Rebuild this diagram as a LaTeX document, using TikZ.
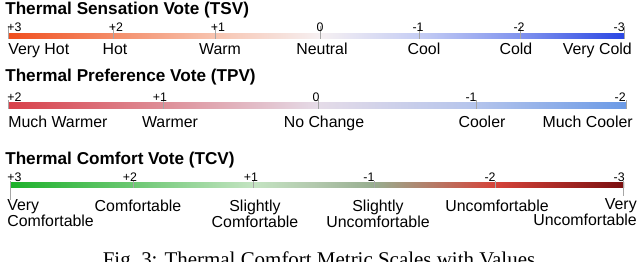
\documentclass[tikz,border=0pt]{standalone}
\usepackage{fontspec}
\setmainfont{Liberation Sans}
\newfontfamily\capfont{Liberation Serif}
\usetikzlibrary{positioning}

% Colores de las escalas
\definecolor{tsvA}{HTML}{F04E1E}
\definecolor{tsvB}{HTML}{F48C68}
\definecolor{tsvC}{HTML}{F7C4B0}
\definecolor{tsvD}{HTML}{F6F0F2}
\definecolor{tsvE}{HTML}{C5CDF4}
\definecolor{tsvF}{HTML}{8093EE}
\definecolor{tsvG}{HTML}{2A46E3}

\definecolor{tpvA}{HTML}{D8404A}
\definecolor{tpvB}{HTML}{DE8E97}
\definecolor{tpvC}{HTML}{E5DCE8}
\definecolor{tpvD}{HTML}{B4C4EC}
\definecolor{tpvE}{HTML}{6B9AE6}

\definecolor{tcvA}{HTML}{1DB12B}
\definecolor{tcvB}{HTML}{6CC873}
\definecolor{tcvC}{HTML}{C4E4C2}
\definecolor{tcvM}{HTML}{B3C9AE}
\definecolor{tcvD}{HTML}{98AE90}
\definecolor{tcvE}{HTML}{D5433A}
\definecolor{tcvF}{HTML}{7A0F10}

\pgfdeclarehorizontalshading{tsvShade}{100bp}{color(0bp)=(tsvA); color(25bp)=(tsvA); color(33.5bp)=(tsvB); color(41.8bp)=(tsvC); color(50.3bp)=(tsvD); color(58.4bp)=(tsvE); color(66.6bp)=(tsvF); color(75bp)=(tsvG); color(100bp)=(tsvG)}
\pgfdeclarehorizontalshading{tpvShade}{100bp}{color(0bp)=(tpvA); color(25bp)=(tpvA); color(37.5bp)=(tpvB); color(50.1bp)=(tpvC); color(62.9bp)=(tpvD); color(75bp)=(tpvE); color(100bp)=(tpvE)}
\pgfdeclarehorizontalshading{tcvShade}{100bp}{color(0bp)=(tcvA); color(25bp)=(tcvA); color(35bp)=(tcvB); color(44.8bp)=(tcvC); color(49.7bp)=(tcvM); color(54.6bp)=(tcvD); color(64.5bp)=(tcvE); color(75bp)=(tcvF); color(100bp)=(tcvF)}

\begin{document}
\begin{tikzpicture}[
		x=0.025cm, y=-0.025cm,
		% Estilos de textos y marcas
		votetitle/.style={anchor=base west, inner sep=0pt, font=\bfseries\fontsize{12.2}{14}\selectfont},
		num/.style={anchor=base, inner sep=0pt, font=\fontsize{8.8}{10}\selectfont},
		lbl/.style={anchor=base, inner sep=0pt, align=center, font=\fontsize{11.3}{11.6}\selectfont},
		scaletick/.style={draw=black!35, line width=0.3pt}
		]
		\useasboundingbox (0,0) rectangle (640,262);
		\clip (0,0) rectangle (640,262);
		
		% --- THERMAL SENSATION VOTE ---
		\node [votetitle] (tsvTitle) at (5,15) {Thermal Sensation Vote (TSV)};
		\shade [shading=tsvShade] (8,34) rectangle (624,39);
		
		\coordinate (tsvP3) at (8,39);
		\coordinate (tsvP2) at (113,39);
		\coordinate (tsvP1) at (215,39);
		\coordinate (tsvZ) at (320,39);
		\coordinate (tsvM1) at (419,39);
		\coordinate (tsvM2) at (520,39);
		\coordinate (tsvM3) at (624,39);
		\draw [scaletick] (tsvP3) -- ++(0,-13);
		\draw [scaletick] (tsvP2) -- ++(0,-13);
		\draw [scaletick] (tsvP1) -- ++(0,-13);
		\draw [scaletick] (tsvZ) -- ++(0,-13);
		\draw [scaletick] (tsvM1) -- ++(0,-13);
		\draw [scaletick] (tsvM2) -- ++(0,-13);
		\draw [scaletick] (tsvM3) -- ++(0,-13);
		
		\node [num, anchor=base west] (tsvNumP3) at (7,32) {+3};
		\node [num] (tsvNumP2) at (116,32) {+2};
		\node [num] (tsvNumP1) at (218,32) {+1};
		\node [num] (tsvNumZ) at (320,32) {0};
		\node [num] (tsvNumM1) at (418,32) {-1};
		\node [num] (tsvNumM2) at (519,32) {-2};
		\node [num, anchor=base east] (tsvNumM3) at (625,32) {-3};
		
		\node [lbl, anchor=base west] (veryHot) at (8,55) {Very Hot};
		\node [lbl] (hot) at (115,55) {Hot};
		\node [lbl] (warm) at (220,55) {Warm};
		\node [lbl] (neutral) at (322,55) {Neutral};
		\node [lbl] (cool) at (424,55) {Cool};
		\node [lbl] (cold) at (516,55) {Cold};
		\node [lbl, anchor=base east] (veryCold) at (632,55) {Very Cold};
		
		% --- THERMAL PREFERENCE VOTE ---
		\node [votetitle] (tpvTitle) at (5,82) {Thermal Preference Vote (TPV)};
		\shade [shading=tpvShade] (8,103) rectangle (626,109);
		
		\coordinate (tpvP2) at (8,109);
		\coordinate (tpvP1) at (163,109);
		\coordinate (tpvZ) at (318,109);
		\coordinate (tpvM1) at (476,109);
		\coordinate (tpvM2) at (626,109);
		\draw [scaletick] (tpvP2) -- ++(0,-9);
		\draw [scaletick] (tpvP1) -- ++(0,-9);
		\draw [scaletick] (tpvZ) -- ++(0,-9);
		\draw [scaletick] (tpvM1) -- ++(0,-9);
		\draw [scaletick] (tpvM2) -- ++(0,-9);
		
		\node [num, anchor=base west] (tpvNumP2) at (7,101.5) {+2};
		\node [num] (tpvNumP1) at (160,101.5) {+1};
		\node [num] (tpvNumZ) at (316,101.5) {0};
		\node [num] (tpvNumM1) at (471,101.5) {-1};
		\node [num, anchor=base east] (tpvNumM2) at (626,101.5) {-2};
		
		\node [lbl, anchor=base west] (muchWarmer) at (8,128) {Much Warmer};
		\node [lbl] (warmer) at (170,128) {Warmer};
		\node [lbl] (noChange) at (324,128) {No Change};
		\node [lbl] (cooler) at (482,128) {Cooler};
		\node [lbl, anchor=base east] (muchCooler) at (633,128) {Much Cooler};
		
		% --- THERMAL COMFORT VOTE ---
		\node [votetitle] (tcvTitle) at (5,165) {Thermal Comfort Vote (TCV)};
		\shade [shading=tcvShade] (10,183) rectangle (624,188);
		
		\coordinate (tcvP3) at (10,188);
		\coordinate (tcvP2) at (133,188);
		\coordinate (tcvP1) at (253,188);
		\coordinate (tcvM1) at (374,188);
		\coordinate (tcvM2) at (495,188);
		\coordinate (tcvM3) at (623,188);
		\draw [scaletick] (tcvP3) ++(0,12) -- ++(0,-19);
		\draw [scaletick] (tcvP2) -- ++(0,-7);
		\draw [scaletick] (tcvP1) -- ++(0,-7);
		\draw [scaletick] (tcvM1) -- ++(0,-7);
		\draw [scaletick] (tcvM2) -- ++(0,-7);
		\draw [scaletick] (tcvM3) ++(0,8) -- ++(0,-15);
		
		\node [num, anchor=base west] (tcvNumP3) at (7,181.5) {+3};
		\node [num] (tcvNumP2) at (130,181.5) {+2};
		\node [num] (tcvNumP1) at (251,181.5) {+1};
		\node [num] (tcvNumM1) at (369,181.5) {-1};
		\node [num] (tcvNumM2) at (490,181.5) {-2};
		\node [num, anchor=base east] (tcvNumM3) at (625,181.5) {-3};
		
		% (los textos de dos lineas van anclados en la ultima linea)
		\node [lbl, anchor=base west, align=left] (veryComf) at (7,227) {Very\\Comfortable};
		\node [lbl] (comf) at (138,212) {Comfortable};
		\node [lbl] (slComf) at (255,228) {Slightly\\Comfortable};
		\node [lbl] (slUncomf) at (378,228) {Slightly\\Uncomfortable};
		\node [lbl] (uncomf) at (497,212) {Uncomfortable};
		\node [lbl, anchor=base east, align=right] (veryUncomf) at (637,226) {Very\\Uncomfortable};
		
		% Pie de figura
		\node [anchor=base, inner sep=0pt, font=\capfont\fontsize{14.9}{16}\selectfont] (caption) at (319,267) {Fig.~3: Thermal Comfort Metric Scales with Values};
		
	\end{tikzpicture}
\end{document}
